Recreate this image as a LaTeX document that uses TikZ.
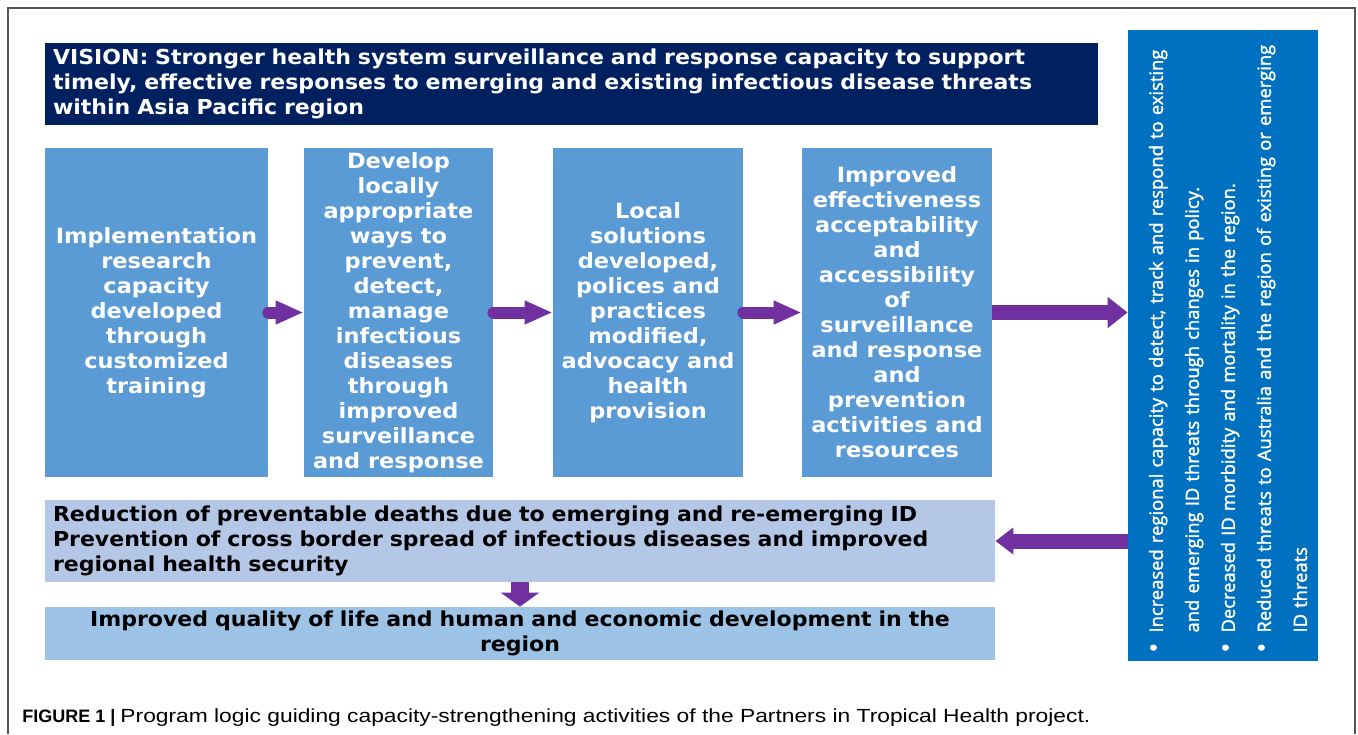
\documentclass[tikz,border=0pt]{standalone}
\usepackage{fontspec}
\setmainfont{Liberation Sans}
\newfontfamily\boxfont[FakeStretch=1.07]{DejaVu Sans}
\newfontfamily\colfont[FakeBold=1.8]{Open Sans}
\newfontfamily\capfont[FakeStretch=1.2]{Liberation Sans}
\usetikzlibrary{arrows.meta}

\definecolor{visionnavy}{RGB}{0,32,96}
\definecolor{stepblue}{RGB}{91,155,213}
\definecolor{outcomeblue}{RGB}{0,112,192}
\definecolor{arrowpurple}{RGB}{112,48,160}
\definecolor{impactlav}{RGB}{180,199,231}
\definecolor{goalblue}{RGB}{157,195,230}
\definecolor{framegray}{RGB}{85,85,85}

\newcommand\outbullet{\makebox[10pt][l]{\fontsize{13pt}{18pt}\selectfont\textbullet}}

\tikzset{
  widebox/.style={minimum width=526.5pt, minimum height=41pt, text width=518.5pt,
    inner xsep=4pt, inner ysep=0pt, align=left,
    font=\boxfont\bfseries\fontsize{10.3pt}{12.5pt}\selectfont},
  stepbox/.style={fill=stepblue, text=white, minimum height=164.5pt, inner sep=0pt,
    align=center, font=\boxfont\bfseries\fontsize{10.5pt}{12.5pt}\selectfont},
  smallarrow/.style={draw=arrowpurple, line width=6pt, line cap=round,
    -{Triangle[length=14pt,width=11pt]}},
  bigarrow/.style={draw=arrowpurple, line width=7.5pt,
    -{Triangle[length=10pt,width=15pt]}}
}

\begin{document}
\begin{tikzpicture}[x=0.5pt,y=-0.5pt]
  \useasboundingbox (0,0) rectangle (1358,734);

  % outer frame of the figure
  \draw[framegray, line width=1pt] (8,734) |- (1355,8) -- (1355,734);

  % vision on top
  \node[widebox, fill=visionnavy, text=white] (vision) at (571.5,84)
    {VISION: Stronger health system surveillance and response capacity to support\\
     timely, effective responses to emerging and existing infectious disease threats\\
     within Asia Pacific region};

  % the four steps
  \node[stepbox, minimum width=111.5pt] (train) at (156.5,312.5)
    {Implementation\\research\\capacity\\developed\\through\\customized\\training};
  \node[stepbox, minimum width=94.5pt] (develop) at (398.5,312.5)
    {Develop\\locally\\appropriate\\ways to\\prevent,\\detect,\\manage\\infectious\\diseases\\through\\improved\\surveillance\\and response};
  \node[stepbox, minimum width=95pt] (local) at (648,312.5)
    {Local\\solutions\\developed,\\polices and\\practices\\modified,\\advocacy and\\health\\provision};
  \node[stepbox, minimum width=95pt] (improved) at (897,312.5)
    {Improved\\effectiveness\\acceptability\\and\\accessibility\\of\\surveillance\\and response\\and\\prevention\\activities and\\resources};

  % outcomes column
  \node[fill=outcomeblue, minimum width=95pt, minimum height=315.5pt, inner sep=0pt] (outcomes) at (1223,345.5) {};
  \node[rotate=90, text=white, text width=307pt, inner sep=0pt, align=left,
    font=\colfont\fontsize{9.2pt}{18pt}\selectfont] (outcomeText) at ([xshift=2.5pt]outcomes.center)
    {\outbullet Increased regional capacity to detect, track and respond to existing\\
     \hspace*{10pt}and emerging ID threats through changes in policy.\\
     \outbullet Decreased ID morbidity and mortality in the region.\\
     \outbullet Reduced threats to Australia and the region of existing or emerging\\
     \hspace*{10pt}ID threats};

  % impact and goal
  \node[widebox, fill=impactlav, minimum width=475pt, text width=467pt] (impact) at (520,541)
    {Reduction of preventable deaths due to emerging and re-emerging ID\\
     Prevention of cross border spread of infectious diseases and improved\\
     regional health security};
  \node[widebox, fill=goalblue, minimum width=475pt, text width=467pt, minimum height=26.5pt, align=center] (goal) at (520,633.5)
    {Improved quality of life and human and economic development in the\\region};

  % arrows
  \draw[smallarrow] (train.east) -- (develop.west);
  \draw[smallarrow] (develop.east) -- (local.west);
  \draw[smallarrow] (local.east) -- (improved.west);
  \draw[bigarrow] (improved.east) -- (improved.east -| outcomes.west);
  \draw[bigarrow, -{Triangle[length=9pt,width=13pt]}] (outcomes.west |- impact.east) -- (impact.east);
  \draw[draw=arrowpurple, line width=9pt, -{Triangle[length=7pt,width=19pt]}] (impact.south) -- (goal.north);

  % caption
  \node[anchor=base west, inner sep=0pt, font=\fontsize{9pt}{11pt}\selectfont] (caption) at (22,722)
    {\textbf{FIGURE 1 |} {\capfont\fontsize{9.5pt}{11pt}\selectfont Program logic guiding capacity-strengthening activities of the Partners in Tropical Health project.}};
\end{tikzpicture}
\end{document}
